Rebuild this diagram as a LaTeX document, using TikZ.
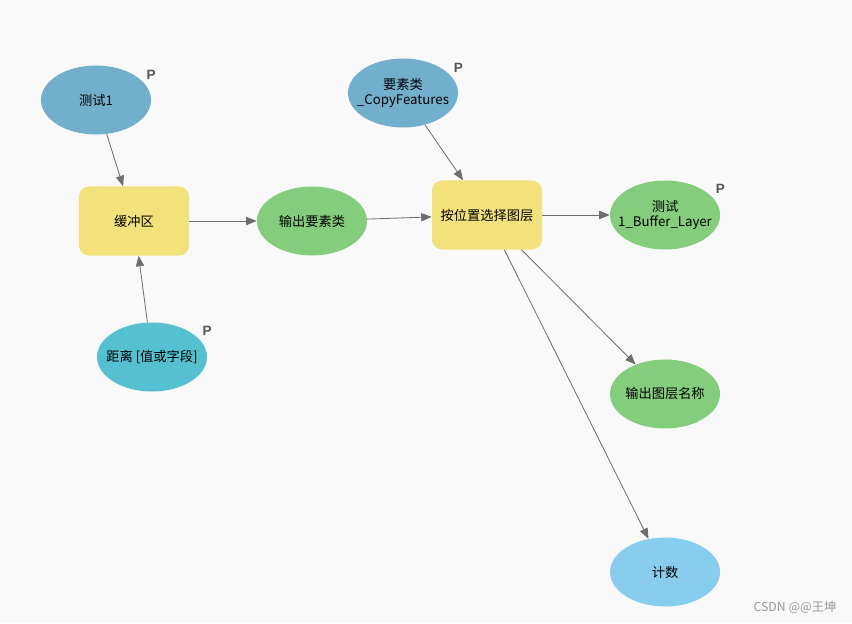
\documentclass[tikz,border=0pt]{standalone}
\usepackage{fontspec}
\setmainfont{Noto Sans CJK SC}
\newfontfamily\pfont{Liberation Sans}
\usepackage{tikz}
\usetikzlibrary{shapes.geometric,arrows.meta}

\definecolor{modelBlue}{HTML}{72AFCC}
\definecolor{modelYellow}{HTML}{F3E17B}
\definecolor{modelGreen}{HTML}{84CD7C}
\definecolor{modelCyan}{HTML}{55C0CF}
\definecolor{modelSky}{HTML}{88CCEE}
\definecolor{modelBack}{HTML}{F9F9F9}
\definecolor{modelLine}{HTML}{6E6E6E}

\tikzset{
  % every element of the model has the same size
  element/.style={draw=none, minimum width=3.3cm, minimum height=2.07cm,
    inner xsep=-1cm, inner ysep=0pt, align=center,
    font=\fontsize{11.3}{13}\selectfont},
  datavar/.style={element, ellipse},
  tool/.style={element, rectangle, rounded corners=0.3cm, inner xsep=2pt, fill=modelYellow},
  plabel/.style={draw=none, text=black!67, font=\pfont\bfseries\fontsize{11.5}{12}\selectfont, inner sep=0pt},
  flow/.style={-{Triangle[length=9pt, width=7pt]}, color=modelLine, line width=0.7pt}
}

\begin{document}
\begin{tikzpicture}[x=0.03cm, y=-0.03cm]
% background of the model window
\fill[modelBack] (0,0) rectangle (852,623);
\useasboundingbox (0,0) rectangle (852,623);

% inputs and the buffer tool
\node[datavar, fill=modelBlue] (test1) at (96,100) {测试1};
\node[tool] (buffer) at (134,221) {缓冲区};
\node[datavar, fill=modelCyan] (dist) at (152,357) {距离 [值或字段]};
\node[datavar, fill=modelGreen] (outfc) at (312,221) {输出要素类};

% select layer by location
\node[datavar, fill=modelBlue] (copyfc) at (403,93) {要素类\\\_CopyFeatures};
\node[tool] (select) at (487,215) {按位置选择图层};

% outputs
\node[datavar, fill=modelGreen] (bufflayer) at (665,215) {测试\\1\_Buffer\_Layer};
\node[datavar, fill=modelGreen] (layername) at (665,394) {输出图层名称};
\node[datavar, fill=modelSky] (count) at (665,572) {计数};

% "P" marks the model parameters
\node[plabel] (p1) at ([yshift=-0.3cm]test1.north -| test1.east) {P};
\node[plabel] (p2) at ([yshift=-0.3cm]copyfc.north -| copyfc.east) {P};
\node[plabel] (p3) at ([yshift=-0.25cm]dist.north -| dist.east) {P};
\node[plabel] (p4) at ([yshift=-0.25cm]bufflayer.north -| bufflayer.east) {P};

% connectors
\draw[flow] (test1) -- (buffer);
\draw[flow] (dist) -- (buffer);
\draw[flow] (buffer) -- (outfc);
\draw[flow] (outfc) -- (select);
\draw[flow] (copyfc) -- (select);
\draw[flow] (select) -- (bufflayer);
\draw[flow] (select) -- (layername);
\draw[flow] (select) -- (count);

% watermark
\node[draw=none, text=black!40, font=\fontsize{10.5}{11}\selectfont] (mark) at (795,607) {CSDN @@王坤};
\end{tikzpicture}
\end{document}
